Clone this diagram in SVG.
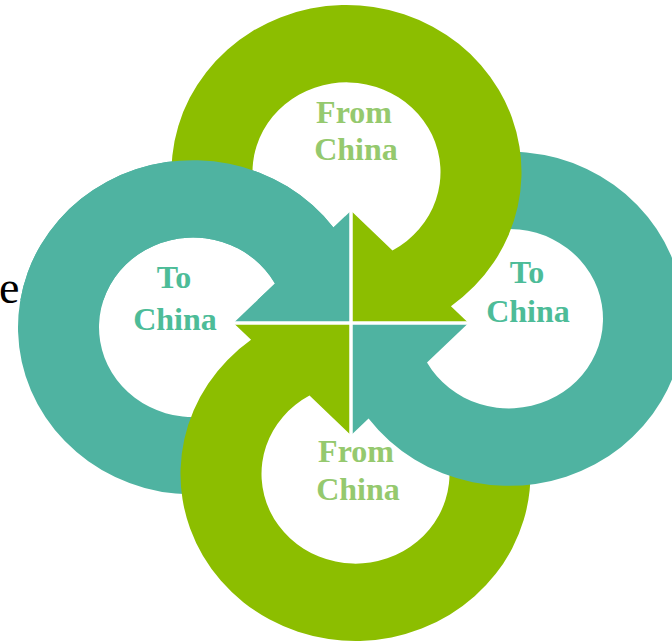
<svg xmlns="http://www.w3.org/2000/svg" xmlns:xlink="http://www.w3.org/1999/xlink" width="672" height="642" viewBox="0 0 672 642">
  <style>
    .green { fill: #8CBE00; }
    .teal { fill: #4FB3A1; }
    .lbl { font-family: "Liberation Serif", "Times New Roman", serif; font-weight: bold; font-size: 32px; text-anchor: middle; }
    .lbl-from { fill: #95C96E; }
    .lbl-to { fill: #4DBC98; }
    .sep { stroke: #FFFFFF; stroke-width: 3.5; fill: none; }
    .stray { font-family: "Liberation Serif", "Times New Roman", serif; font-size: 46px; fill: #000000; }
  </style>
  <defs>
    <path id="ring" d="M -173.54 -112.71 A 175 175 0 1 1 99.93 -17.57 L 117.5 0 L 0 0 L 0 -117.5 L 41.49 -76.01 A 94 94 0 1 0 -95.30 -133.67 Z"/>
    <clipPath id="clipTL">
      <rect x="0" y="0" width="345" height="300"/>
    </clipPath>
  </defs>
  <rect width="672" height="642" fill="#FFFFFF"/>
  <text class="stray" x="-1" y="303">e</text>

  <g id="node-to-china-left">
    <use id="shape-left" href="#ring" xlink:href="#ring" class="teal" transform="translate(351 323) scale(1 0.955) rotate(270)"/>
    <text class="lbl lbl-to" x="174" y="288">To</text>
    <text class="lbl lbl-to" x="175" y="330">China</text>
  </g>

  <g id="node-from-china-bottom">
    <use href="#ring" xlink:href="#ring" class="green" transform="translate(351 323) scale(1 0.955) rotate(180)"/>
    <text class="lbl lbl-from" x="356" y="462">From</text>
    <text class="lbl lbl-from" x="358" y="500">China</text>
  </g>

  <g id="node-to-china-right">
    <use href="#ring" xlink:href="#ring" class="teal" transform="translate(351 323) scale(1 0.955) rotate(90)"/>
    <text class="lbl lbl-to" x="527" y="283">To</text>
    <text class="lbl lbl-to" x="528" y="322">China</text>
  </g>

  <g id="node-from-china-top">
    <use href="#ring" xlink:href="#ring" class="green" transform="translate(351 323) scale(1 0.955)"/>
    <text class="lbl lbl-from" x="354" y="123">From</text>
    <text class="lbl lbl-from" x="356" y="160">China</text>
  </g>

  <g id="node-to-china-left-overlap" clip-path="url(#clipTL)">
    <use href="#ring" xlink:href="#ring" class="teal" transform="translate(351 323) scale(1 0.955) rotate(270)"/>
  </g>

  <g id="connectors">
    <line class="sep" x1="351" y1="210" x2="351" y2="436"/>
    <line class="sep" x1="233" y1="323" x2="470" y2="323"/>
  </g>
</svg>
